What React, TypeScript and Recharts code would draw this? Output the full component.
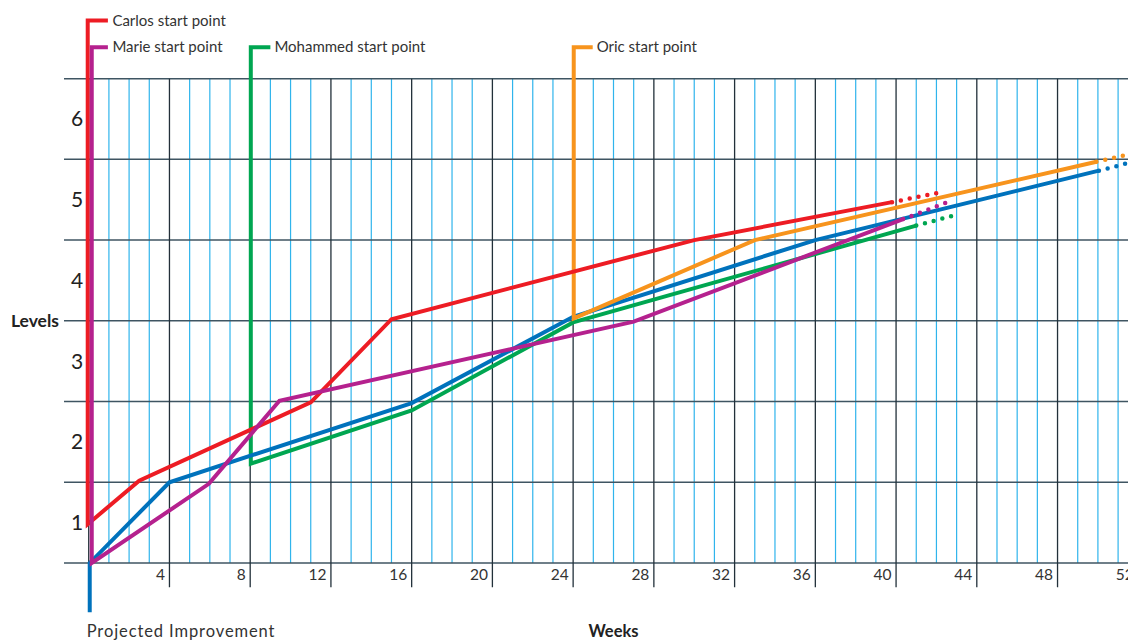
import { Line, LineChart, ReferenceDot, ReferenceLine, XAxis, YAxis } from 'recharts';

// axis + grid
const weekTicks = [4, 8, 12, 16, 20, 24, 28, 32, 36, 40, 44, 48, 52];
const majorWeeks = [0, 4, 8, 12, 16, 20, 24, 28, 32, 36, 40, 44, 48, 52];
const minorWeeks = [
  1, 2, 3, 5, 6, 7, 9, 10, 11, 13, 14, 15, 17, 18, 19, 21, 22, 23, 25, 26, 27,
  29, 30, 31, 33, 34, 35, 37, 38, 39, 41, 42, 43, 45, 46, 47, 49, 50, 51, 53,
];
const levelTicks = [1, 2, 3, 4, 5, 6];
const levelLines = [0.5, 1.5, 2.5, 3.5, 4.5, 5.5, 6.5];

// Carlos
const carlosWeeks = [0.95, -0.05, -0.05, 2.5, 11, 15, 30, 39.8];
const carlosLevels = [7.22, 7.22, 0.98, 1.52, 2.49, 3.52, 4.5, 4.97];
const carlosProjWeeks = [39.8, 42.0];
const carlosProjLevels = [4.97, 5.08];

// Marie
const marieWeeks = [0.95, 0.15, 0.15, 5.95, 9.45, 27, 40.35];
const marieLevels = [6.89, 6.89, 0.5, 1.48, 2.51, 3.49, 4.76];
const marieProjWeeks = [40.35, 42.45];
const marieProjLevels = [4.76, 4.96];

// Mohammed
const mohammedWeeks = [9.0, 8.03, 8.03, 16, 24, 41];
const mohammedLevels = [6.89, 6.89, 1.73, 2.39, 3.48, 4.68];
const mohammedProjWeeks = [41, 43.1];
const mohammedProjLevels = [4.68, 4.82];

// Oric
const oricWeeks = [24.97, 24.03, 24.03, 33, 49.93];
const oricLevels = [6.89, 6.89, 3.53, 4.5, 5.47];
const oricProjWeeks = [49.93, 52.2];
const oricProjLevels = [5.47, 5.6];

// projected improvement (blue)
const projectedWeeks = [0.05, 0.05, 4, 16, 24, 36, 50.05];
const projectedLevels = [-0.11, 0.5, 1.5, 2.48, 3.55, 4.5, 5.36];
const projectedProjWeeks = [50.05, 52.2];
const projectedProjLevels = [5.36, 5.5];

const RED = '#ed1c24';
const MAGENTA = '#b5218e';
const GREEN = '#00a651';
const ORANGE = '#f7941d';
const BLUE = '#0072bc';

const toPoints = (weeks: number[], levels: number[]) =>
  weeks.map((w, i) => ({ week: w, level: levels[i] }));

const flagLabel =
  (text: string, dx: number, dy: number, size = 15, spacing = 0) =>
  (props: any) => {
    const vb = props.viewBox || props;
    return (
      <text x={vb.x + dx} y={vb.y + dy} fontSize={size} letterSpacing={spacing} fill="#333">
        {text}
      </text>
    );
  };

const tickLabel = (text: string) => (props: any) => {
  const vb = props.viewBox || props;
  return (
    <text x={vb.x - 4.5} y={vb.y + vb.height - 7} textAnchor="end" fontSize={15.5} fill="#333">
      {text}
    </text>
  );
};

const solid = (data: any[], color: string) => (
  <Line
    data={data}
    dataKey="level"
    type="linear"
    stroke={color}
    strokeWidth={4}
    dot={false}
    activeDot={false}
    isAnimationActive={false}
  />
);

const dotted = (data: any[], color: string) => (
  <Line
    data={data}
    dataKey="level"
    type="linear"
    stroke={color}
    strokeWidth={4.5}
    strokeDasharray="0 9"
    strokeLinecap="round"
    dot={false}
    activeDot={false}
    isAnimationActive={false}
  />
);

const App = () => {
  return (
    <div
      style={{
        position: 'absolute',
        left: 0,
        top: 0,
        width: 1128,
        height: 640,
        overflow: 'hidden',
        background: '#fff',
      }}
    >
      <LineChart
        width={1164}
        height={640}
        margin={{ top: 6, right: 1, bottom: 0, left: 64 }}
        style={{ fontFamily: 'Lato, sans-serif' }}
      >
        <XAxis
          dataKey="week"
          type="number"
          domain={[-1.225, 53.225]}
          allowDataOverflow
          ticks={weekTicks}
          tick={false}
          tickLine={false}
          axisLine={false}
          height={16.5}
          label={{
            value: 'Weeks',
            position: 'insideTop',
            offset: 2,
            fill: '#222',
            fontSize: 16.5,
            fontWeight: 700,
          }}
        />
        <YAxis
          type="number"
          domain={[-0.25, 7.4]}
          allowDataOverflow
          ticks={levelTicks}
          width={1}
          mirror
          axisLine={false}
          tickLine={false}
          tickSize={0}
          tickMargin={7}
          tick={{ fill: '#222', fontSize: 21 }}
        />

        {minorWeeks.map((w) => (
          <ReferenceLine
            key={'minor' + w}
            segment={[
              { x: w, y: 0.5 },
              { x: w, y: 6.5 },
            ]}
            stroke="#2fb4ec"
            strokeWidth={1.2}
            zIndex={-50}
          />
        ))}
        {levelLines.map((l) => (
          <ReferenceLine
            key={'level' + l}
            y={l}
            stroke="#3f5562"
            strokeWidth={1.5}
            zIndex={-50}
            label={
              l === 3.5
                ? { value: 'Levels', position: 'left', offset: 5, fill: '#222', fontSize: 17.5, fontWeight: 700 }
                : undefined
            }
          />
        ))}
        {majorWeeks.map((w) => (
          <ReferenceLine
            key={'major' + w}
            segment={[
              { x: w, y: 0.2 },
              { x: w, y: 6.5 },
            ]}
            stroke="#22303a"
            strokeWidth={1.3}
            zIndex={-50}
            label={weekTicks.includes(w) ? tickLabel(String(w)) : undefined}
          />
        ))}

        {solid(toPoints(mohammedWeeks, mohammedLevels), GREEN)}
        {dotted(toPoints(mohammedProjWeeks, mohammedProjLevels), GREEN)}
        {solid(toPoints(projectedWeeks, projectedLevels), BLUE)}
        {dotted(toPoints(projectedProjWeeks, projectedProjLevels), BLUE)}
        {solid(toPoints(oricWeeks, oricLevels), ORANGE)}
        {dotted(toPoints(oricProjWeeks, oricProjLevels), ORANGE)}
        {solid(toPoints(carlosWeeks, carlosLevels), RED)}
        {dotted(toPoints(carlosProjWeeks, carlosProjLevels), RED)}
        {solid(toPoints(marieWeeks, marieLevels), MAGENTA)}
        {dotted(toPoints(marieProjWeeks, marieProjLevels), MAGENTA)}

        <ReferenceDot x={carlosWeeks[0]} y={carlosLevels[0]} r={0} fill="none" stroke="none"
          label={flagLabel('Carlos start point', 4.5, 5.3)} />
        <ReferenceDot x={marieWeeks[0]} y={marieLevels[0]} r={0} fill="none" stroke="none"
          label={flagLabel('Marie start point', 4.5, 5.3)} />
        <ReferenceDot x={mohammedWeeks[0]} y={mohammedLevels[0]} r={0} fill="none" stroke="none"
          label={flagLabel('Mohammed start point', 4, 5.3)} />
        <ReferenceDot x={oricWeeks[0]} y={oricLevels[0]} r={0} fill="none" stroke="none"
          label={flagLabel('Oric start point', 4, 5.3)} />
        <ReferenceDot x={projectedWeeks[0]} y={projectedLevels[0]} r={0} fill="none" stroke="none"
          label={flagLabel('Projected Improvement', -3, 24.5, 16.5, 0.9)} />
      </LineChart>
    </div>
  );
};

export default App;
